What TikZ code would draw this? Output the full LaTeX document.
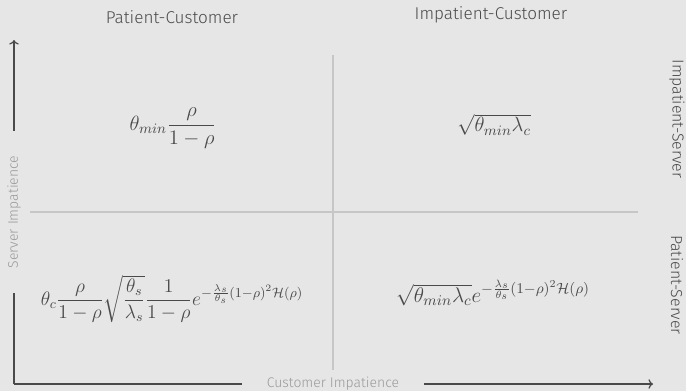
\RequirePackage{fix-cm}
\documentclass[tikz,border=0pt]{standalone}
\usepackage{amsmath,amssymb}
\usepackage{fontspec}
\setmainfont{Fira Sans Light}[BoldFont=Fira Sans]
\usepackage{tikz}
\usetikzlibrary{arrows.meta,positioning}

\definecolor{slidebg}{HTML}{E6E6E6}
\definecolor{slidefg}{HTML}{4A4A4A}
\definecolor{divider}{HTML}{C6C6C6}
\definecolor{axislabel}{HTML}{999999}

\begin{document}
\begin{tikzpicture}[
        x=0.66pt, y=-0.66pt,
        heading/.style={text=slidefg, font=\fontsize{11.3}{13}\selectfont, inner sep=0pt},
        sideheading/.style={heading, font=\fontsize{10.5}{12}\selectfont, rotate=-90},
        axisname/.style={text=axislabel, font=\fontsize{9.2}{11}\selectfont,
                         inner sep=0pt, outer sep=16.5pt},
        axis/.style={draw=slidefg, line width=0.8pt, -{To[length=3pt]}},
        split/.style={draw=divider, line width=0.7pt},
        formula/.style={text=slidefg, font=\fontsize{13.6}{16}\selectfont, inner sep=0pt}
    ]
        \fill[slidebg] (0,0) rectangle (686,391);
        \useasboundingbox (0,0) rectangle (686,391);

        % quadrant lines
        \coordinate (split-top) at (333,55);
        \coordinate (split-bottom) at (333,370);
        \coordinate (split-left) at (30,212);
        \coordinate (split-right) at (638,212);
        \draw[split] (split-top) -- (split-bottom);
        \draw[split] (split-left) -- (split-right);

        % axes
        \coordinate (origin) at (14,384);
        \coordinate (x-end) at (653,384);
        \coordinate (y-end) at (14,40);
        \node[axisname] (x-label) at (333,384) {Customer Impatience};
        \node[axisname, rotate=90] (y-label) at (14,212) {Server Impatience};
        \draw[axis, -] (origin) -- (x-label);
        \draw[axis] (x-label) -- (x-end);
        \draw[axis, -] (origin) -- (y-label);
        \draw[axis] (y-label) -- (y-end);

        % headings
        \node[heading] (patient-customer) at (172,17) {Patient-Customer};
        \node[heading] (impatient-customer) at (491,15) {Impatient-Customer};
        \node[sideheading] (impatient-server) at (677,119) {Impatient-Server};
        \node[sideheading] (patient-server) at (677,285) {Patient-Server};

        % regimes
        \node[formula] (pc-is) at (173,128)
            {$\theta_{min}\dfrac{\rho}{1-\rho}$};
        \node[formula] (ic-is) at (494,125)
            {$\sqrt{\theta_{min}\lambda_c}$};
        \node[formula, font=\fontsize{12.9}{15}\selectfont] (pc-ps) at (172,299)
            {$\theta_c\dfrac{\rho}{1-\rho}\sqrt{\dfrac{\theta_s}{\lambda_s}}\dfrac{1}{1-\rho}e^{-\frac{\lambda_s}{\theta_s}(1-\rho)^2\mathcal{H}(\rho)}$};
        \node[formula, font=\fontsize{14}{16}\selectfont] (ic-ps) at (493,293)
            {$\sqrt{\theta_{min}\lambda_c}e^{-\frac{\lambda_s}{\theta_s}(1-\rho)^2\mathcal{H}(\rho)}$};
\end{tikzpicture}
\end{document}
